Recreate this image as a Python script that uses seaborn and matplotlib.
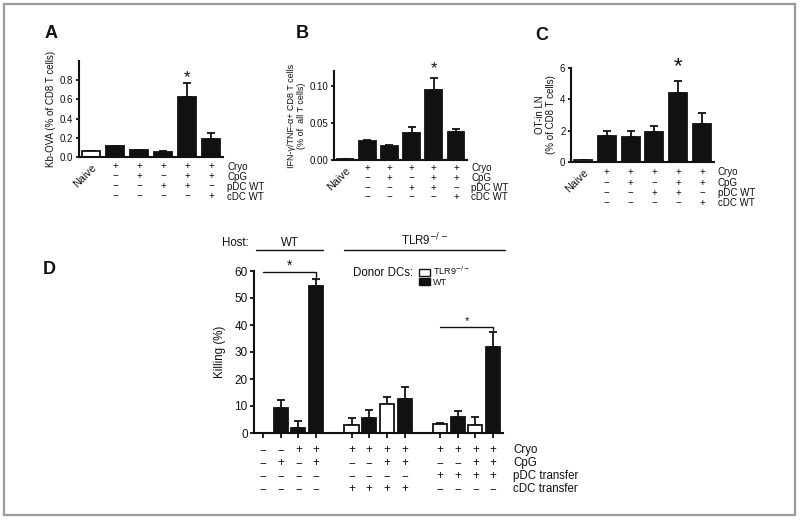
import numpy as np
import pandas as pd
import matplotlib
matplotlib.use("Agg")
import matplotlib.pyplot as plt
from matplotlib.patches import Rectangle, Patch
import seaborn as sns

# Paneles A-C: Naive + 5 tratamientos
fill_abc = ["open", "solid", "solid", "solid", "solid", "solid"]
kb_ova = [0.06, 0.11, 0.07, 0.05, 0.62, 0.19]
kb_ova_err = [0.065, 0.115, 0.075, 0.06, 0.77, 0.25]
ifn_tnf = [0.0012, 0.025, 0.019, 0.036, 0.094, 0.038]
ifn_tnf_err = [0.0016, 0.027, 0.020, 0.045, 0.111, 0.042]
ot_ln = [0.1, 1.65, 1.6, 1.9, 4.4, 2.45]
ot_ln_err = [0.12, 2.0, 1.95, 2.3, 5.2, 3.1]

rows_abc = ["Cryo", "CpG", "pDC WT", "cDC WT"]
signs_abc = [
    ["", "+", "+", "+", "+", "+"],
    ["", "\u2212", "+", "\u2212", "+", "+"],
    ["", "\u2212", "\u2212", "+", "+", "\u2212"],
    ["", "\u2212", "\u2212", "\u2212", "\u2212", "+"],
]

# Panel D: 3 grupos de 4 barras
pos_d = [0, 1, 2, 3, 5, 6, 7, 8, 10, 11, 12, 13]
donor_d = ["WT", "WT", "WT", "WT",
           "TLR9", "WT", "TLR9", "WT",
           "TLR9", "WT", "TLR9", "WT"]
killing = [0, 9.2, 1.8, 54.3, 2.9, 5.7, 10.9, 12.6, 3.4, 6.0, 3.0, 31.8]
killing_err = [0, 12.4, 4.5, 56.9, 5.7, 8.6, 13.5, 17.2, 3.8, 8.3, 5.9, 37.4]
rows_d = ["Cryo", "CpG", "pDC transfer", "cDC transfer"]
M = "\u2212"
signs_d = [
    [M, M, "+", "+", "+", "+", "+", "+", "+", "+", "+", "+"],
    [M, "+", M, "+", M, M, "+", "+", M, M, "+", "+"],
    [M, M, M, M, M, M, M, M, "+", "+", "+", "+"],
    [M, M, M, M, "+", "+", "+", "+", M, M, M, M],
]

INK = "#111111"
sns.set_style("ticks")
plt.rcParams["font.family"] = ["Liberation Sans", "DejaVu Sans"]
plt.rcParams["text.color"] = INK
plt.rcParams["axes.labelcolor"] = INK
plt.rcParams["xtick.color"] = INK
plt.rcParams["ytick.color"] = INK

W, H = 800, 520
fig = plt.figure(figsize=(8, 5.2), dpi=100)


def px_axes(left, top, right, bottom):
    return fig.add_axes([left / W, 1 - bottom / H, (right - left) / W, (bottom - top) / H])


def bars(ax, x, y, err, fill, width, native):
    df = pd.DataFrame({"x": x, "y": y, "fill": fill})
    sns.barplot(data=df, x="x", y="y", hue="fill",
                palette={"open": "white", "solid": INK, "TLR9": "white", "WT": INK},
                dodge=False, native_scale=native, width=width, edgecolor=INK,
                linewidth=1.3, legend=False, ax=ax, zorder=2)
    y = np.array(y, dtype=float)
    err = np.array(err, dtype=float)
    xs = np.array(x, dtype=float) if native else np.arange(len(y))
    keep = err > y
    ax.errorbar(xs[keep], y[keep], yerr=[np.zeros(keep.sum()), (err - y)[keep]],
                fmt="none", ecolor=INK, elinewidth=1.3, capsize=3, capthick=1.3, zorder=1)
    ax.set_xlabel("")
    for s in ["left", "bottom"]:
        ax.spines[s].set_linewidth(1.5)
        ax.spines[s].set_color(INK)
    sns.despine(ax=ax)


def sign_table(ax, xs, rows, signs, offsets, size, label_size, label_dx):
    for r, name in enumerate(rows):
        for x, s in zip(xs, signs[r]):
            ax.annotate(s, xy=(x, 0), xycoords=("data", "axes fraction"),
                        xytext=(0, -offsets[r]), textcoords="offset pixels",
                        ha="center", va="center", fontsize=size)
        ax.annotate(name, xy=(1, 0), xycoords="axes fraction",
                    xytext=(label_dx, -offsets[r]), textcoords="offset pixels",
                    ha="left", va="center", fontsize=label_size)


def panel_abc(ax, vals, errs, ylim, yticks, yticklabels, ylabel, label_size,
              offsets, star_size, star_dy):
    bars(ax, list(range(6)), vals, errs, fill_abc, 0.75, False)
    ax.set_xlim(-0.5, 5.5)
    ax.set_ylim(*ylim)
    ax.set_yticks(yticks, yticklabels)
    ax.tick_params(axis="y", length=2.5, width=1.3, labelsize=7, pad=1.5)
    ax.set_xticks(range(6), ["Naive", "", "", "", "", ""])
    ax.tick_params(axis="x", length=0, pad=4, labelsize=7.8)
    for lab in ax.get_xticklabels():
        lab.set_rotation(45)
        lab.set_ha("right")
        lab.set_rotation_mode("anchor")
    ax.set_ylabel(ylabel, fontsize=label_size, labelpad=2.5, linespacing=1.2)
    sign_table(ax, range(6), rows_abc, signs_abc, offsets, 7, 7, 4)
    ax.annotate("*", xy=(4, errs[4]), xytext=(0, star_dy), textcoords="offset pixels",
                ha="center", va="baseline", fontsize=star_size)


ax_a = px_axes(79, 61, 223, 157)
panel_abc(ax_a, kb_ova, kb_ova_err, (0, 1.0), [0, 0.2, 0.4, 0.6, 0.8],
          ["0.0", "0.2", "0.4", "0.6", "0.8"], "Kb-OVA (% of CD8 T cells)", 7,
          [9.5, 19.5, 29.5, 39.5], 12, 1)

ax_b = px_axes(334, 71, 467, 160)
panel_abc(ax_b, ifn_tnf, ifn_tnf_err, (0, 0.12), [0, 0.05, 0.10],
          ["0.00", "0.05", "0.10"], "IFN-\u03b3/TNF-\u03b1+ CD8 T cells\n(% of  all T cells)", 6.5,
          [8, 18, 28, 37], 12, 5)

ax_c = px_axes(571, 68, 714, 162)
panel_abc(ax_c, ot_ln, ot_ln_err, (0, 6), [0, 2, 4, 6], ["0", "2", "4", "6"],
          "OT-in LN\n(% of CD8 T cells)", 7, [10, 21, 31, 41], 16, 8)

# Panel D
ax_d = px_axes(254, 271, 503, 433)
bars(ax_d, pos_d, killing, killing_err, donor_d, 0.8, True)
ax_d.set_xlim(-0.51, 13.56)
ax_d.set_ylim(0, 60)
ax_d.set_yticks([0, 10, 20, 30, 40, 50, 60])
ax_d.set_xticks(pos_d, [""] * len(pos_d))
ax_d.tick_params(axis="x", length=3.5, width=1.3)
ax_d.tick_params(axis="y", length=3, width=1.3, labelsize=8.5, pad=1.5)
ax_d.set_ylabel("Killing (%)", fontsize=8.3, labelpad=6)
sign_table(ax_d, pos_d, rows_d, signs_d, [17, 30, 43, 56], 8.3, 8.3, 10)

# corchetes de significancia
for i, j, yb, size, dy in [(0, 3, 59.5, 10, 3), (8, 11, 39.1, 8, 3)]:
    x0, x1 = pos_d[i], pos_d[j]
    ax_d.plot([x0, x1, x1], [yb, yb, killing_err[j] + 0.8], color=INK, lw=1.0, clip_on=False)
    ax_d.annotate("*", xy=((x0 + x1) / 2, yb), xytext=(0, dy), textcoords="offset pixels",
                  ha="center", va="baseline", fontsize=size)

# encabezado Host
fig.text(222 / W, 1 - 243 / H, "Host:", fontsize=8.3, va="center", ha="left")
for label, x0, x1 in [("WT", -0.4, 3.4), ("TLR9$^{-/-}$", 4.6, 13.7)]:
    ax_d.plot([x0, x1], [1.13, 1.13], transform=ax_d.get_xaxis_transform(),
              color=INK, lw=1.0, clip_on=False)
    ax_d.text((x0 + x1) / 2, 1.156, label, transform=ax_d.get_xaxis_transform(),
              ha="center", va="baseline", fontsize=8.3)

# leyenda de donantes
fig.text(353 / W, 1 - 273 / H, "Donor DCs:", fontsize=8.3, va="center", ha="left")
handles = [Patch(facecolor="white", edgecolor=INK, lw=1.0, label="TLR9$^{-/-}$"),
           Patch(facecolor=INK, edgecolor=INK, lw=1.0, label="WT")]
fig.legend(handles=handles, loc="upper left", bbox_to_anchor=(419 / W, 1 - 265 / H),
           frameon=False, fontsize=6.5, handlelength=1.2, handleheight=0.8,
           handletextpad=0.3, labelspacing=0.05, borderpad=0, borderaxespad=0)

# letras de panel
for letter, x, y in [("A", 45, 33), ("B", 296, 33), ("C", 535, 35), ("D", 43, 270)]:
    fig.text(x / W, 1 - y / H, letter, fontsize=13, fontweight="bold", va="center", ha="left")

# marco gris
fig.patches.append(Rectangle((4 / W, 5 / H), 791 / W, 511 / H, transform=fig.transFigure,
                             fill=False, edgecolor="#9a9a9a", lw=1.6))

fig.savefig("out.png", dpi=100)
